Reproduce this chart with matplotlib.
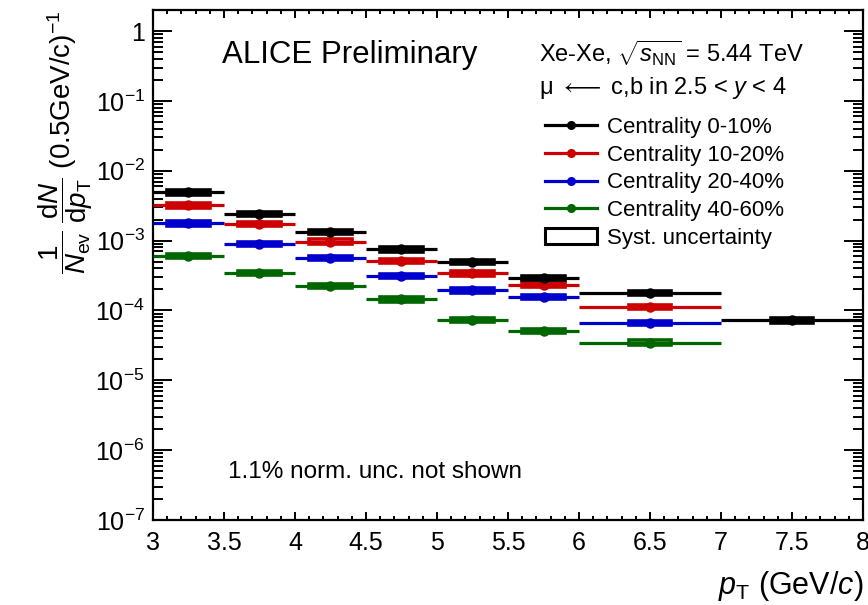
"""
Heavy-flavour decay muon pT spectra in Xe-Xe collisions for four
centrality classes, with statistical error bars and systematic boxes.
"""
import matplotlib.pyplot as plt
from matplotlib.lines import Line2D
from matplotlib.patches import Rectangle
from matplotlib.ticker import LogLocator, MultipleLocator, NullFormatter

plt.rcParams['font.family'] = ['Liberation Sans', 'DejaVu Sans']
plt.rcParams['mathtext.fontset'] = 'custom'
plt.rcParams['mathtext.rm'] = 'Liberation Sans'
plt.rcParams['mathtext.it'] = 'Liberation Sans:italic'
plt.rcParams['mathtext.bf'] = 'Liberation Sans:bold'

# pT bins (GeV/c)
bin_lo = [3.0, 3.5, 4.0, 4.5, 5.0, 5.5, 6.0, 7.0]
bin_hi = [3.5, 4.0, 4.5, 5.0, 5.5, 6.0, 7.0, 8.0]
pt_center = [3.25, 3.75, 4.25, 4.75, 5.25, 5.75, 6.5, 7.5]

labels = ['Centrality 0-10%', 'Centrality 10-20%',
          'Centrality 20-40%', 'Centrality 40-60%']
colors = ['black', '#cc0000', '#0000cc', '#006600']

yield_0_10 = [4.9e-3, 2.4e-3, 1.32e-3, 7.5e-4, 5.0e-4, 2.92e-4, 1.76e-4, 7.2e-5]
yield_10_20 = [3.2e-3, 1.72e-3, 9.7e-4, 5.1e-4, 3.4e-4, 2.34e-4, 1.11e-4]
yield_20_40 = [1.76e-3, 8.9e-4, 5.6e-4, 3.1e-4, 1.94e-4, 1.58e-4, 6.6e-5]
yield_40_60 = [6.0e-4, 3.47e-4, 2.24e-4, 1.44e-4, 7.3e-5, 5.15e-5, 3.47e-5]

# relative statistical and systematic uncertainties
stat_0_10 = [0.02, 0.02, 0.03, 0.03, 0.04, 0.05, 0.05, 0.09]
stat_10_20 = [0.02, 0.02, 0.03, 0.03, 0.04, 0.05, 0.06]
stat_20_40 = [0.02, 0.03, 0.03, 0.04, 0.05, 0.06, 0.07]
stat_40_60 = [0.03, 0.03, 0.04, 0.05, 0.12, 0.14, 0.12]
syst_rel = 0.07

yields = [yield_0_10, yield_10_20, yield_20_40, yield_40_60]
stats = [stat_0_10, stat_10_20, stat_20_40, stat_40_60]

fig = plt.figure(figsize=(8.68, 6.05), dpi=100)
ax = fig.add_axes([153 / 868, 1 - 520 / 605, 710 / 868, 510 / 605])

for i in [3, 2, 1, 0]:
    y = yields[i]
    n = len(y)
    x = pt_center[:n]
    xerr_lo = [pt_center[k] - bin_lo[k] for k in range(n)]
    xerr_hi = [bin_hi[k] - pt_center[k] for k in range(n)]
    yerr = [y[k] * stats[i][k] for k in range(n)]
    for k in range(n):
        ax.add_patch(Rectangle((x[k] - 0.15, y[k] * (1 - syst_rel)), 0.3,
                               y[k] * 2 * syst_rel, fill=False,
                               edgecolor=colors[i], linewidth=2.6, zorder=2))
    ax.errorbar(x, y, xerr=[xerr_lo, xerr_hi], yerr=yerr, fmt='o',
                color=colors[i], markersize=6.5, elinewidth=2.3,
                capsize=0, zorder=3)

# legend entries: line with marker for each class, open box for syst.
handles = [Line2D([], [], color=c, linewidth=2.3, marker='o', markersize=5.5)
           for c in colors]
syst_handle = Rectangle((0, 0), 1, 1, fill=False, edgecolor='black', linewidth=2.2)

ax.set_yscale('log')
ax.set_xlim(3, 8)
ax.set_ylim(1e-7, 2)

ax.set_xticks([3, 3.5, 4, 4.5, 5, 5.5, 6, 6.5, 7, 7.5, 8])
ax.set_xticklabels(['3', '3.5', '4', '4.5', '5', '5.5', '6', '6.5', '7', '7.5', '8'])
ax.xaxis.set_minor_locator(MultipleLocator(0.1))
ax.set_yticks([1e-7, 1e-6, 1e-5, 1e-4, 1e-3, 1e-2, 1e-1, 1])
ax.set_yticklabels([r'$10^{-7}$', r'$10^{-6}$', r'$10^{-5}$', r'$10^{-4}$',
                    r'$10^{-3}$', r'$10^{-2}$', r'$10^{-1}$', '1'])
ax.yaxis.set_minor_locator(LogLocator(base=10, subs=range(2, 10), numticks=100))
ax.yaxis.set_minor_formatter(NullFormatter())

ax.tick_params(which='both', direction='in', top=True, right=True,
               labelsize=18, width=1.4)
ax.tick_params(axis='x', which='major', length=6, pad=8)
ax.tick_params(axis='x', which='minor', length=3)
ax.tick_params(axis='y', which='major', length=14, pad=6)
ax.tick_params(axis='y', which='minor', length=7)
for s in ax.spines.values():
    s.set_linewidth(1.6)

ax.set_xlabel(r'$p_{\rm T}$ (GeV/$c$)', fontsize=22, loc='right', labelpad=10)
ax.set_ylabel(r'$\dfrac{1}{N_{\rm ev}}\;\dfrac{{\rm d}N}{{\rm d}p_{\rm T}}$ (0.5GeV/c)$^{-1}$',
              fontsize=20, loc='top', labelpad=0)

ax.text(0.097, 0.912, 'ALICE Preliminary', transform=ax.transAxes,
        fontsize=22.5, va='center', ha='left')
ax.text(0.543, 0.916, r'Xe-Xe, $\sqrt{s_{\rm NN}}$ = 5.44 TeV',
        transform=ax.transAxes, fontsize=17, va='center', ha='left')
ax.text(0.543, 0.848, r'μ $\longleftarrow$ c,b in 2.5 < $y$ < 4',
        transform=ax.transAxes, fontsize=17, va='center', ha='left')
ax.text(0.105, 0.094, '1.1% norm. unc. not shown', transform=ax.transAxes,
        fontsize=17.5, va='center', ha='left')

ax.legend(handles + [syst_handle], labels + ['Syst. uncertainty'],
          loc='upper left', bbox_to_anchor=(0.552, 0.79), frameon=False,
          fontsize=16, handlelength=2.35, handletextpad=0.45,
          labelspacing=0.3, borderpad=0, borderaxespad=0)

fig.savefig('out.png', dpi=100)
